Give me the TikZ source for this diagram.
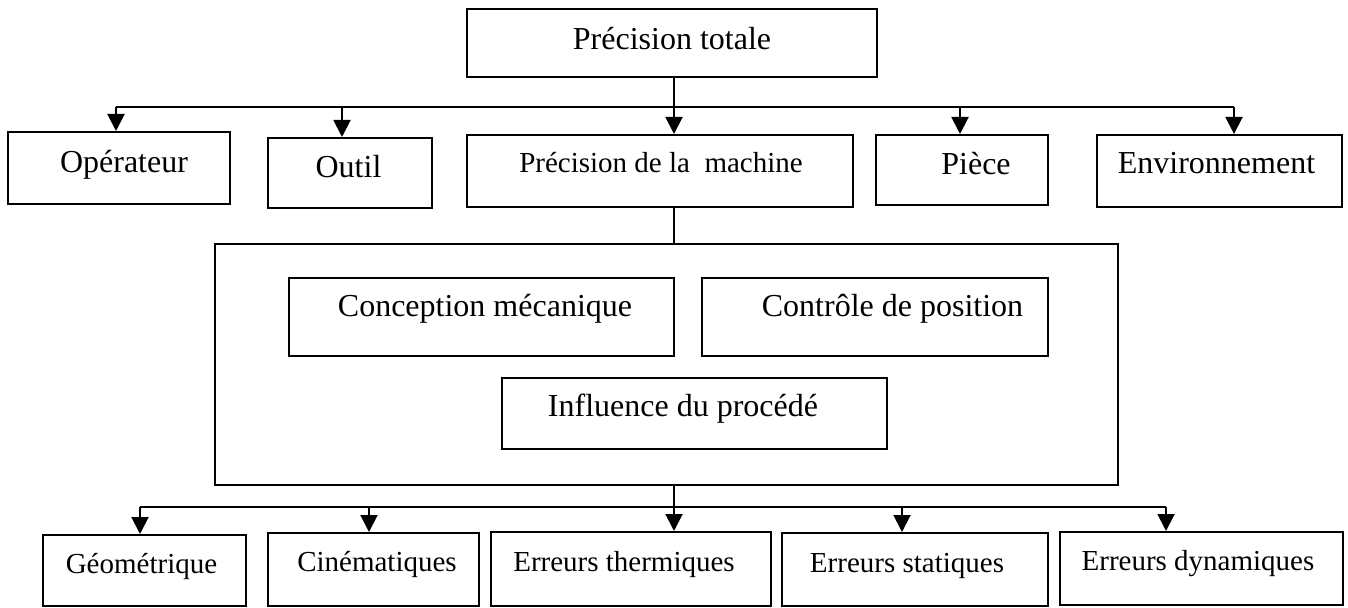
\documentclass[tikz,border=0pt]{standalone}
\usepackage{fontspec}
\setmainfont{Liberation Serif}
\usetikzlibrary{fit,arrows.meta}
\tikzset{
  box/.style={draw=black, line width=1pt, inner sep=0pt, fill=none},
  big/.style={inner sep=0pt, anchor=base, font=\fontsize{16}{19}\selectfont},
  small/.style={inner sep=0pt, anchor=base, font=\fontsize{14.5}{17}\selectfont},
  conn/.style={draw=black, line width=1pt},
  arr/.style={conn, -{Triangle[length=8.5pt,width=8.5pt]}}
}
\begin{document}
\begin{tikzpicture}[x=0.5pt, y=-0.5pt]
\useasboundingbox (0,0) rectangle (1348,608);
% boxes
\node[box, fit={(467,9) (877,77)}] (top) {};
\node[box, fit={(8,132) (230,204)}] (op) {};
\node[box, fit={(268,138) (432,208)}] (ou) {};
\node[box, fit={(467,135) (853,207)}] (mach) {};
\node[box, fit={(876,135) (1048,205)}] (pie) {};
\node[box, fit={(1097,135) (1342,207)}] (env) {};
\node[box, fit={(215,244) (1118,485)}] (bigbox) {};
\node[box, fit={(289,278) (674,356)}] (conc) {};
\node[box, fit={(702,278) (1048,356)}] (ctrl) {};
\node[box, fit={(502,378) (887,449)}] (infl) {};
\node[box, fit={(43,535) (246,606)}] (geo) {};
\node[box, fit={(268,533) (479,606)}] (cin) {};
\node[box, fit={(491,532) (771,606)}] (th) {};
\node[box, fit={(782,533) (1048,606)}] (st) {};
\node[box, fit={(1060,532) (1343,605)}] (dyn) {};
% texts
\node[big] (ttop) at (672,50) {Précision totale};
\node[big] (top_t) at (124,173) {Opérateur};
\node[big] (tou) at (348.5,178) {Outil};
\node[small] (tmach) at (661,173) {Précision de la \ machine};
\node[big] (tpie) at (976,175) {Pièce};
\node[big] (tenv) at (1216.5,174) {Environnement};
\node[big] (tconc) at (485,317) {Conception mécanique};
\node[big] (tctrl) at (892.5,317) {Contrôle de position};
\node[big] (tinfl) at (683,417) {Influence du procédé};
\node[small] (tgeo) at (141.5,573) {Géométrique};
\node[small] (tcin) at (377,571) {Cinématiques};
\node[small] (tth) at (624,571) {Erreurs thermiques};
\node[small] (tst) at (907,572) {Erreurs statiques};
\node[small] (tdyn) at (1198,570) {Erreurs dynamiques};
% upper connectors
\coordinate (j1) at (674,107);
\coordinate (a1) at (116,107);
\coordinate (a2) at (342,107);
\coordinate (a4) at (960,107);
\coordinate (a5) at (1234,107);
\draw[conn] (a1) -- (a5);
\draw[arr] (j1 |- top.south) -- (j1 |- mach.north);
\draw[arr] (a1) -- (a1 |- op.north);
\draw[arr] (a2) -- (a2 |- ou.north);
\draw[arr] (a4) -- (a4 |- pie.north);
\draw[arr] (a5) -- (a5 |- env.north);
\draw[conn] (j1 |- mach.south) -- (j1 |- bigbox.north);
% lower connectors
\coordinate (j2) at (674,507);
\coordinate (b1) at (140,507);
\coordinate (b2) at (369,507);
\coordinate (b4) at (902,507);
\coordinate (b5) at (1166,507);
\draw[conn] (b1) -- (b5);
\draw[arr] (j2 |- bigbox.south) -- (j2 |- th.north);
\draw[arr] (b1) -- (b1 |- geo.north);
\draw[arr] (b2) -- (b2 |- cin.north);
\draw[arr] (b4) -- (b4 |- st.north);
\draw[arr] (b5) -- (b5 |- dyn.north);
\end{tikzpicture}
\end{document}
